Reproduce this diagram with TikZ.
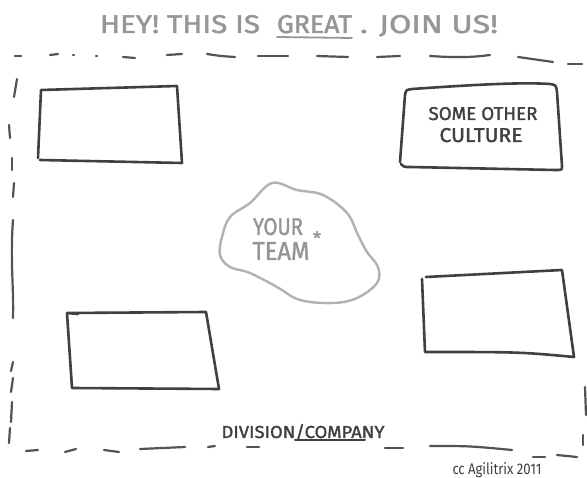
\documentclass[tikz,border=0pt]{standalone}
\usepackage{fontspec}
\setmainfont{Fira Sans}
\newfontfamily\markerfont[FakeBold=1.6]{Fira Sans}
\definecolor{ink}{RGB}{64,64,64}
\definecolor{pencil}{RGB}{150,150,150}
\definecolor{blobc}{RGB}{178,178,178}
\begin{document}
\begin{tikzpicture}[x=1pt,y=-1pt,line cap=round,line join=round,
  boxline/.style={draw=ink,line width=2.6pt},
  dashline/.style={draw=ink!90,line width=2.2pt},
  blobline/.style={draw=blobc,line width=2.4pt},
  hand/.style={inner sep=0pt,outer sep=0pt,text=ink,anchor=base,font=\markerfont},
  pen/.style={hand,text=pencil}]
\useasboundingbox (0,0) rectangle (587,478);
\fill[white] (0,0) rectangle (587,478);

% title
\node[pen] (titleA) at (180,33) {\resizebox{160pt}{18pt}{HEY! THIS IS}};
\node[pen] (great) at (314.5,33) {\resizebox{75pt}{18pt}{GREAT}};
\node[pen] (titleB) at (429,33) {\resizebox{138pt}{18pt}{. JOIN US!}};
\draw[pencil,line width=1.8pt] ([yshift=-4pt]great.base west) -- ([yshift=-5pt]great.base east);

% dashed frame: top
\draw[dashline] (15,56)--(21,56);
\draw[dashline] (50,55)--(58,54);
\draw[dashline] (73,55)--(74,55);
\draw[dashline] (96,56)--(97,56);
\draw[dashline] (123,57)--(135,58);
\draw[dashline] (167,55)--(182,54);
\draw[dashline] (207,54) .. controls (220,56) .. (235,57);
\draw[dashline] (258,56)--(288,56);
\draw[dashline] (317,56)--(348,57);
\draw[dashline] (377,57)--(400,56);
\draw[dashline] (430,56) .. controls (460,58) and (475,57) .. (490,55);
\draw[dashline] (518,57)--(553,62);
\draw[dashline] (568,64)--(582,64);
% left
\draw[dashline] (17,79)--(14,97);
\draw[dashline] (9,125)--(10,138);
\draw[dashline] (12,158)--(12,170);
\draw[dashline] (14,183)--(13,197);
\draw[dashline] (13,220) .. controls (10,260) and (14,290) .. (13,318);
\draw[dashline] (13,362)--(11,371);
\draw[dashline] (13,378)--(11,392);
\draw[dashline] (12,402)--(11,422);
\draw[dashline] (10,428)--(9,443);
% bottom
\draw[dashline] (26,451)--(38,450);
\draw[dashline] (65,452)--(76,449);
\draw[dashline] (104,450)--(119,452);
\draw[dashline] (140,449)--(185,447);
\draw[dashline] (208,447)--(215,446);
\draw[dashline] (247,447)--(259,447);
\draw[dashline] (385,448)--(403,448);
\draw[dashline] (430,446) .. controls (470,446) .. (512,450);
\draw[dashline] (533,457)--(545,457);
\draw[dashline] (557,455)--(577,457);
% right
\draw[dashline] (585,387)--(586,415);
\draw[dashline] (583,435)--(583,445);

% boxes
\draw[boxline] (38,158) -- (41,90) -- (177,86) -- (182,163) -- (40,160);
\draw[boxline] (400,162) -- (405,95) .. controls (406,90) .. (412,89)
  .. controls (470,85) and (520,82) .. (550,84) .. controls (556,85) .. (557,92)
  -- (562,166) .. controls (562,170) .. (555,170) -- (410,167) .. controls (404,167) .. (401,164);
\node[hand] (other1) at (483,120) {\resizebox{109pt}{13pt}{SOME OTHER}};
\node[hand] (other2) at (481,142) {\resizebox{83pt}{14pt}{CULTURE}};
\draw[boxline] (78,314) -- (67,313) -- (206,312) -- (219,389) -- (72,388) -- (67,313);
\draw[boxline] (426,277) -- (562,270) -- (574,357) .. controls (520,352) .. (425,352) -- (422,279);

% blob
\draw[blobline] plot[smooth cycle,tension=0.6] coordinates {
 (272,183) (297,190) (323,195) (347,213) (358,235) (367,252) (378,267) (377,283)
 (357,298) (333,303) (300,300) (277,287) (250,273) (230,267) (220,255) (222,237)
 (230,217) (250,203)};
\node[pen] (your) at (278,235) {\resizebox{50pt}{17pt}{YOUR}};
\node[pen] (team) at (281,260) {\resizebox{57pt}{18pt}{TEAM}};
\node[pen,anchor=center] (star) at (317,238) {\resizebox{8pt}{!}{*}};

% caption
\node[hand] (division) at (303,438) {\resizebox{163pt}{14pt}{DIVISION/COMPANY}};
\draw[ink,line width=2pt] (295,440) -- (365,440);
\node[hand,font=\rmfamily] (credit) at (497,475) {\resizebox{89pt}{12pt}{cc Agilitrix 2011}};
\end{tikzpicture}
\end{document}
